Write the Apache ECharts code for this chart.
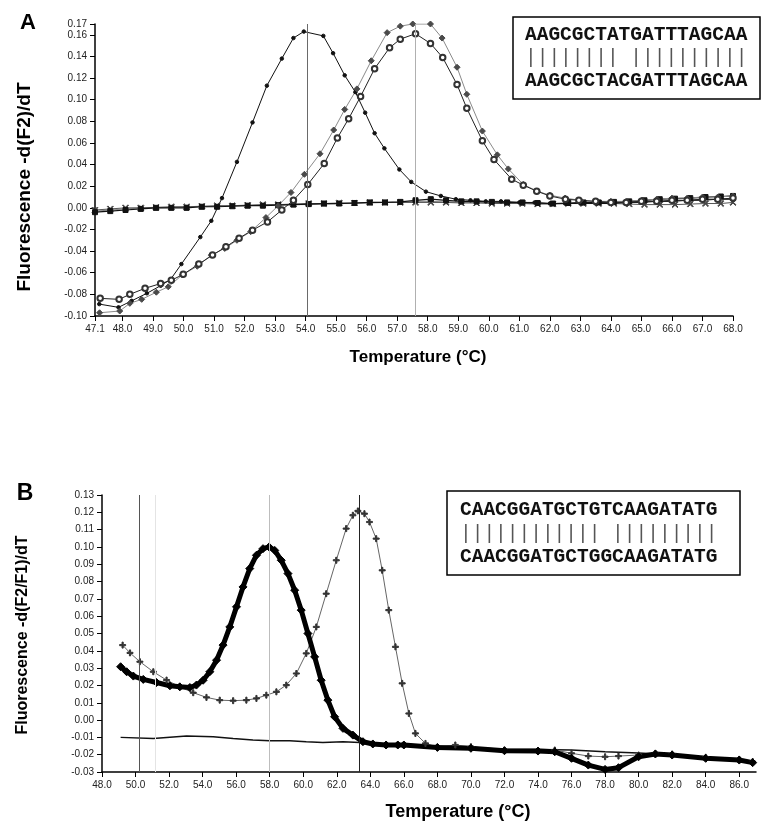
<!DOCTYPE html>
<html><head><meta charset="utf-8">
<script src="https://cdn.jsdelivr.net/npm/echarts@6/dist/echarts.min.js"></script>
<style>html,body{margin:0;padding:0;background:#fff}#c{width:769px;height:828px}</style>
</head><body><div id="c"></div>
<script>
// ---------- Panel A data ----------
const aXTicks = [47.1,48,49,50,51,52,53,54,55,56,57,58,59,60,61,62,63,64,65,66,67,68];
const aYTicks = [-0.10,-0.08,-0.06,-0.04,-0.02,0.00,0.02,0.04,0.06,0.08,0.10,0.12,0.14,0.16,0.17];
const aMeltLines = [54.05, 57.6];

const aDotT = [47.24,47.87,48.3,48.8,49.25,49.58,49.93,50.55,50.91,51.26,51.75,52.26,52.73,53.22,53.6,53.94,54.58,54.9,55.28,55.63,55.95,56.26,56.58,57.07,57.46,57.94,58.43,58.92,59.4,59.9,60.4,61.0,61.5,62.0,62.5,63.0,63.5,64.0,64.5,65.0,65.5,66.0,66.5,67.0,67.5,68.0];
const aDotV = [-0.089,-0.092,-0.086,-0.079,-0.072,-0.066,-0.052,-0.027,-0.012,0.009,0.0425,0.079,0.113,0.138,0.157,0.163,0.159,0.143,0.1225,0.107,0.088,0.069,0.055,0.0355,0.024,0.015,0.011,0.008,0.007,0.006,0.006,0.005,0.005,0.004,0.004,0.004,0.004,0.004,0.005,0.005,0.006,0.006,0.007,0.007,0.008,0.008];

const aDiaT = [47.25,47.91,48.24,48.63,49.11,49.5,49.96,50.45,50.91,51.35,51.75,52.2,52.7,53.1,53.52,53.96,54.47,54.92,55.28,55.68,56.15,56.67,57.1,57.51,58.09,58.47,58.96,59.28,59.79,60.28,60.64,61.13,61.59,62.0,62.5,63.0,63.5,64.0,64.5,65.0,65.5,66.0,66.5,67.0,67.5,68.0];
const aDiaV = [-0.097,-0.0954,-0.0883,-0.0846,-0.078,-0.073,-0.062,-0.054,-0.0437,-0.0375,-0.03,-0.022,-0.009,0.002,0.0142,0.031,0.05,0.072,0.091,0.11,0.136,0.162,0.168,0.17,0.17,0.157,0.13,0.105,0.071,0.049,0.036,0.0216,0.0154,0.0117,0.009,0.007,0.006,0.006,0.006,0.007,0.008,0.009,0.009,0.010,0.010,0.011];

const aCircT = [47.27,47.89,48.24,48.74,49.25,49.6,49.99,50.5,50.95,51.39,51.82,52.26,52.75,53.22,53.6,54.07,54.61,55.04,55.41,55.8,56.26,56.75,57.1,57.6,58.09,58.49,58.96,59.28,59.79,60.17,60.75,61.13,61.57,62.0,62.51,62.95,63.5,64.0,64.5,65.0,65.5,66.0,66.5,67.0,67.5,68.0];
const aCircV = [-0.0837,-0.0846,-0.080,-0.0744,-0.070,-0.067,-0.0615,-0.052,-0.0437,-0.036,-0.028,-0.0206,-0.013,-0.002,0.007,0.0216,0.041,0.0646,0.0825,0.103,0.1287,0.148,0.156,0.161,0.152,0.139,0.114,0.092,0.062,0.0447,0.0265,0.021,0.0154,0.011,0.008,0.007,0.006,0.005,0.005,0.006,0.006,0.007,0.007,0.008,0.008,0.009];

const aFlatT = [47.1,47.6,48.1,48.6,49.1,49.6,50.1,50.6,51.1,51.6,52.1,52.6,53.1,53.6,54.1,54.6,55.1,55.6,56.1,56.6,57.1,57.6,58.1,58.6,59.1,59.6,60.1,60.6,61.1,61.6,62.1,62.6,63.1,63.6,64.1,64.6,65.1,65.6,66.1,66.6,67.1,67.6,68.0];
const aFlat1V = [-0.004,-0.003,-0.002,-0.001,0,0,0,0.001,0.001,0.0015,0.002,0.002,0.0025,0.003,0.0035,0.004,0.004,0.0045,0.005,0.005,0.0055,0.007,0.008,0.007,0.006,0.006,0.0055,0.005,0.005,0.0045,0.004,0.0045,0.005,0.005,0.0055,0.006,0.007,0.008,0.0085,0.009,0.010,0.0105,0.011];
const aFlat2V = [-0.002,-0.001,0,0,0.0005,0.001,0.001,0.0015,0.002,0.002,0.0025,0.003,0.003,0.0035,0.004,0.004,0.0045,0.0045,0.005,0.005,0.005,0.005,0.005,0.005,0.0045,0.0045,0.004,0.004,0.004,0.0035,0.0035,0.004,0.004,0.004,0.004,0.0035,0.003,0.003,0.003,0.0035,0.004,0.004,0.005];
const aFlat3V = [-0.003,-0.002,-0.001,0,0,0.0005,0.001,0.001,0.0015,0.002,0.002,0.0025,0.003,0.003,0.003,0.0035,0.004,0.004,0.0045,0.005,0.005,0.006,0.006,0.0055,0.005,0.005,0.005,0.0045,0.004,0.004,0.004,0.004,0.0045,0.005,0.005,0.0055,0.006,0.006,0.0065,0.007,0.0075,0.008,0.008];

const aSeqTop = 'AAGCGCTATGATTTAGCAA';
const aSeqBars = '|||||||| ||||||||||';
const aSeqBot = 'AAGCGCTACGATTTAGCAA';

// ---------- Panel B data ----------
const bXTicks = [48,50,52,54,56,58,60,62,64,66,68,70,72,74,76,78,80,82,84,86];
const bYTicks = [-0.03,-0.02,-0.01,0.00,0.01,0.02,0.03,0.04,0.05,0.06,0.07,0.08,0.09,0.10,0.11,0.12,0.13];
const bMeltLines = [50.2, 51.2, 58.0, 63.35];

const bDiaT = [49.11,49.47,49.87,50.46,51.25,52.05,52.64,53.24,53.63,54.03,54.43,54.83,55.22,55.62,56.02,56.41,56.81,57.21,57.6,57.96,58.3,58.69,59.09,59.49,59.88,60.28,60.68,61.07,61.47,61.87,62.37,62.96,63.56,64.15,64.94,65.64,66,68,70,72,74,75,76,77,78,78.8,80,81,82,84,86,86.8];
const bDiaV = [0.0308,0.0279,0.0254,0.0235,0.0217,0.0198,0.0192,0.0188,0.0202,0.023,0.0279,0.0346,0.0433,0.0538,0.0654,0.0769,0.0875,0.0952,0.099,0.100,0.098,0.0923,0.0846,0.075,0.0635,0.05,0.0365,0.023,0.0115,0.0019,-0.0048,-0.0087,-0.0125,-0.0138,-0.0144,-0.0144,-0.0144,-0.0158,-0.0163,-0.0177,-0.0179,-0.0183,-0.0221,-0.026,-0.0285,-0.0275,-0.0212,-0.0196,-0.0202,-0.0221,-0.0231,-0.0246];

const bPlusT = [49.23,49.67,50.26,51.06,51.85,52.64,53.44,54.23,55.02,55.82,56.61,57.21,57.8,58.4,58.99,59.59,60.18,60.78,61.37,61.97,62.56,62.96,63.26,63.65,63.95,64.35,64.71,65.1,65.5,65.9,66.3,66.69,67.29,68,69.07,70,72,74,75,76,77,78,78.8,80,81,82,84,86,86.8];
const bPlusV = [0.0433,0.0388,0.0337,0.0279,0.0231,0.0192,0.0158,0.0131,0.0115,0.0112,0.0115,0.0125,0.0144,0.0163,0.0202,0.0269,0.0385,0.0538,0.073,0.0923,0.1106,0.1183,0.1208,0.1192,0.1144,0.1048,0.0865,0.0635,0.0423,0.0212,0.0038,-0.0077,-0.0135,-0.0158,-0.0144,-0.0154,-0.0173,-0.0179,-0.0173,-0.0192,-0.0208,-0.0212,-0.0208,-0.0202,-0.0192,-0.0196,-0.0215,-0.0227,-0.024];

const bFlatT = [49.11,51.06,53.04,54.63,55.82,57.0,58.0,59.19,60.18,61.17,62.37,63.36,64.5,66,68,70,72,74,76,78,80,82,84,86,86.8];
const bFlatV = [-0.010,-0.0106,-0.0092,-0.0096,-0.0106,-0.0115,-0.0119,-0.0119,-0.0125,-0.013,-0.0125,-0.013,-0.0135,-0.014,-0.015,-0.016,-0.0168,-0.017,-0.0173,-0.0183,-0.019,-0.020,-0.0215,-0.023,-0.0238];

const bSeqTop = 'CAACGGATGCTGTCAAGATATG';
const bSeqBars = '|||||||||||| |||||||||';
const bSeqBot = 'CAACGGATGCTGGCAAGATATG';

// ---------- build ----------
function zip(t, v) { return t.map((x, i) => [x, v[i]]); }
const SANS = '"Liberation Sans", Arial, sans-serif';
const MONO = '"Liberation Mono", "DejaVu Sans Mono", monospace';
const crossSym = 'path://M1,0L5,4L9,0L10,1L6,5L10,9L9,10L5,6L1,10L0,9L4,5L0,1Z';
const plusSym = 'path://M4,0H6V4H10V6H6V10H4V6H0V4H4Z';

function xAx(grid, min, max, ticks) {
  return {
    type: 'value', gridIndex: grid, min: min, max: max,
    axisLine: { show: true, onZero: false, lineStyle: { color: '#000', width: 1.5 } },
    axisTick: { show: true, length: 5, customValues: ticks, lineStyle: { color: '#000', width: 1 } },
    axisLabel: { show: true, customValues: ticks, formatter: v => Number(v).toFixed(1), fontSize: 10, color: '#222', fontFamily: SANS, margin: 8, hideOverlap: false },
    splitLine: { show: false }
  };
}
function yAx(grid, min, max, ticks) {
  return {
    type: 'value', gridIndex: grid, min: min, max: max,
    axisLine: { show: true, onZero: false, lineStyle: { color: '#000', width: 1.5 } },
    axisTick: { show: true, length: 5, customValues: ticks, lineStyle: { color: '#000', width: 1 } },
    axisLabel: { show: true, customValues: ticks, formatter: v => Number(v).toFixed(2), fontSize: 10, color: '#222', fontFamily: SANS, margin: 8, hideOverlap: false },
    splitLine: { show: false }
  };
}
function vlines(vals, colors) {
  return {
    silent: true, symbol: 'none', animation: false,
    label: { show: false },
    data: vals.map((v, i) => ({ xAxis: v, lineStyle: { color: colors[i], width: 1, type: 'solid' } }))
  };
}
function line(name, xi, data, color, width, sym, symSize, symColor, extra) {
  return Object.assign({
    name: name, type: 'line', xAxisIndex: xi, yAxisIndex: xi, data: data,
    lineStyle: { color: color, width: width }, symbol: sym, symbolSize: symSize,
    showSymbol: sym !== 'none', showAllSymbol: true,
    itemStyle: { color: symColor, borderColor: symColor, borderWidth: 1 },
    emphasis: { disabled: true }, animation: false, z: 3
  }, extra || {});
}

const option = {
  animation: false,
  backgroundColor: '#fff',
  grid: [
    { left: 95, top: 24, width: 638, height: 292, outerBoundsMode: 'none', containLabel: false },
    { left: 102, top: 495, width: 654, height: 277, outerBoundsMode: 'none', containLabel: false }
  ],
  xAxis: [xAx(0, 47.1, 68, aXTicks), xAx(1, 48, 87, bXTicks)],
  yAxis: [yAx(0, -0.10, 0.17, aYTicks), yAx(1, -0.03, 0.13, bYTicks)],
  series: [
    line('A flat 3', 0, zip(aFlatT, aFlat3V), '#888', 1, 'triangle', 4, '#888',
      { markLine: vlines(aMeltLines, ['#6a6a6a', '#b0b0b0']) }),
    line('A flat 2', 0, zip(aFlatT, aFlat2V), '#555', 1, crossSym, 6, '#444'),
    line('A flat 1', 0, zip(aFlatT, aFlat1V), '#111', 1.2, 'rect', 5, '#111'),
    line('A dots', 0, zip(aDotT, aDotV), '#111', 1, 'circle', 3.5, '#111'),
    line('A diamonds', 0, zip(aDiaT, aDiaV), '#8a8a8a', 1, 'diamond', 6, '#4a4a4a'),
    line('A circles', 0, zip(aCircT, aCircV), '#222', 1, 'emptyCircle', 5.5, '#222',
      { itemStyle: { color: '#333', borderColor: '#333', borderWidth: 0.8 } }),
    line('B flat', 1, zip(bFlatT, bFlatV), '#111', 1.5, 'none', 0, '#111',
      { markLine: vlines(bMeltLines, ['#555', '#e4e4e4', '#bdbdbd', '#222']) }),
    line('B plus', 1, zip(bPlusT, bPlusV), '#666', 1, plusSym, 6, '#333'),
    line('B diamonds', 1, zip(bDiaT, bDiaV), '#000', 5, 'diamond', 8, '#000')
  ],
  graphic: [
    { type: 'text', x: 28, y: 23, style: { text: 'A', font: 'bold 22px ' + SANS, fill: '#000', align: 'center', verticalAlign: 'middle' } },
    { type: 'text', x: 25, y: 494, style: { text: 'B', font: 'bold 23px ' + SANS, fill: '#000', align: 'center', verticalAlign: 'middle' } },
    { type: 'text', x: 25, y: 187, rotation: Math.PI / 2, style: { text: 'Fluorescence -d(F2)/dT', font: 'bold 19px ' + SANS, fill: '#000', align: 'center', verticalAlign: 'middle' } },
    { type: 'text', x: 23, y: 635, rotation: Math.PI / 2, style: { text: 'Fluorescence -d(F2/F1)/dT', font: 'bold 16px ' + SANS, fill: '#000', align: 'center', verticalAlign: 'middle' } },
    { type: 'text', x: 418, y: 357, style: { text: 'Temperature (°C)', font: 'bold 17px ' + SANS, fill: '#000', align: 'center', verticalAlign: 'middle' } },
    { type: 'text', x: 458, y: 812, style: { text: 'Temperature (°C)', font: 'bold 18px ' + SANS, fill: '#000', align: 'center', verticalAlign: 'middle' } },
    { type: 'rect', shape: { x: 513, y: 17, width: 247, height: 82 }, style: { fill: '#fff', stroke: '#000', lineWidth: 1.5 }, z: 10 },
    { type: 'text', x: 525, y: 35, z: 11, style: { text: aSeqTop, font: 'bold 19.5px ' + MONO, fill: '#111', align: 'left', verticalAlign: 'middle' } },
    { type: 'text', x: 525, y: 58, z: 11, style: { text: aSeqBars, font: '19.5px ' + MONO, fill: '#555', align: 'left', verticalAlign: 'middle' } },
    { type: 'text', x: 525, y: 81, z: 11, style: { text: aSeqBot, font: 'bold 19.5px ' + MONO, fill: '#111', align: 'left', verticalAlign: 'middle' } },
    { type: 'rect', shape: { x: 447, y: 491, width: 293, height: 84 }, style: { fill: '#fff', stroke: '#000', lineWidth: 1.5 }, z: 10 },
    { type: 'text', x: 460, y: 510, z: 11, style: { text: bSeqTop, font: 'bold 19.5px ' + MONO, fill: '#111', align: 'left', verticalAlign: 'middle' } },
    { type: 'text', x: 460, y: 534, z: 11, style: { text: bSeqBars, font: '19.5px ' + MONO, fill: '#555', align: 'left', verticalAlign: 'middle' } },
    { type: 'text', x: 460, y: 557, z: 11, style: { text: bSeqBot, font: 'bold 19.5px ' + MONO, fill: '#111', align: 'left', verticalAlign: 'middle' } }
  ]
};
const chart = echarts.init(document.getElementById('c'));
chart.setOption(option);
</script>
</body></html>
